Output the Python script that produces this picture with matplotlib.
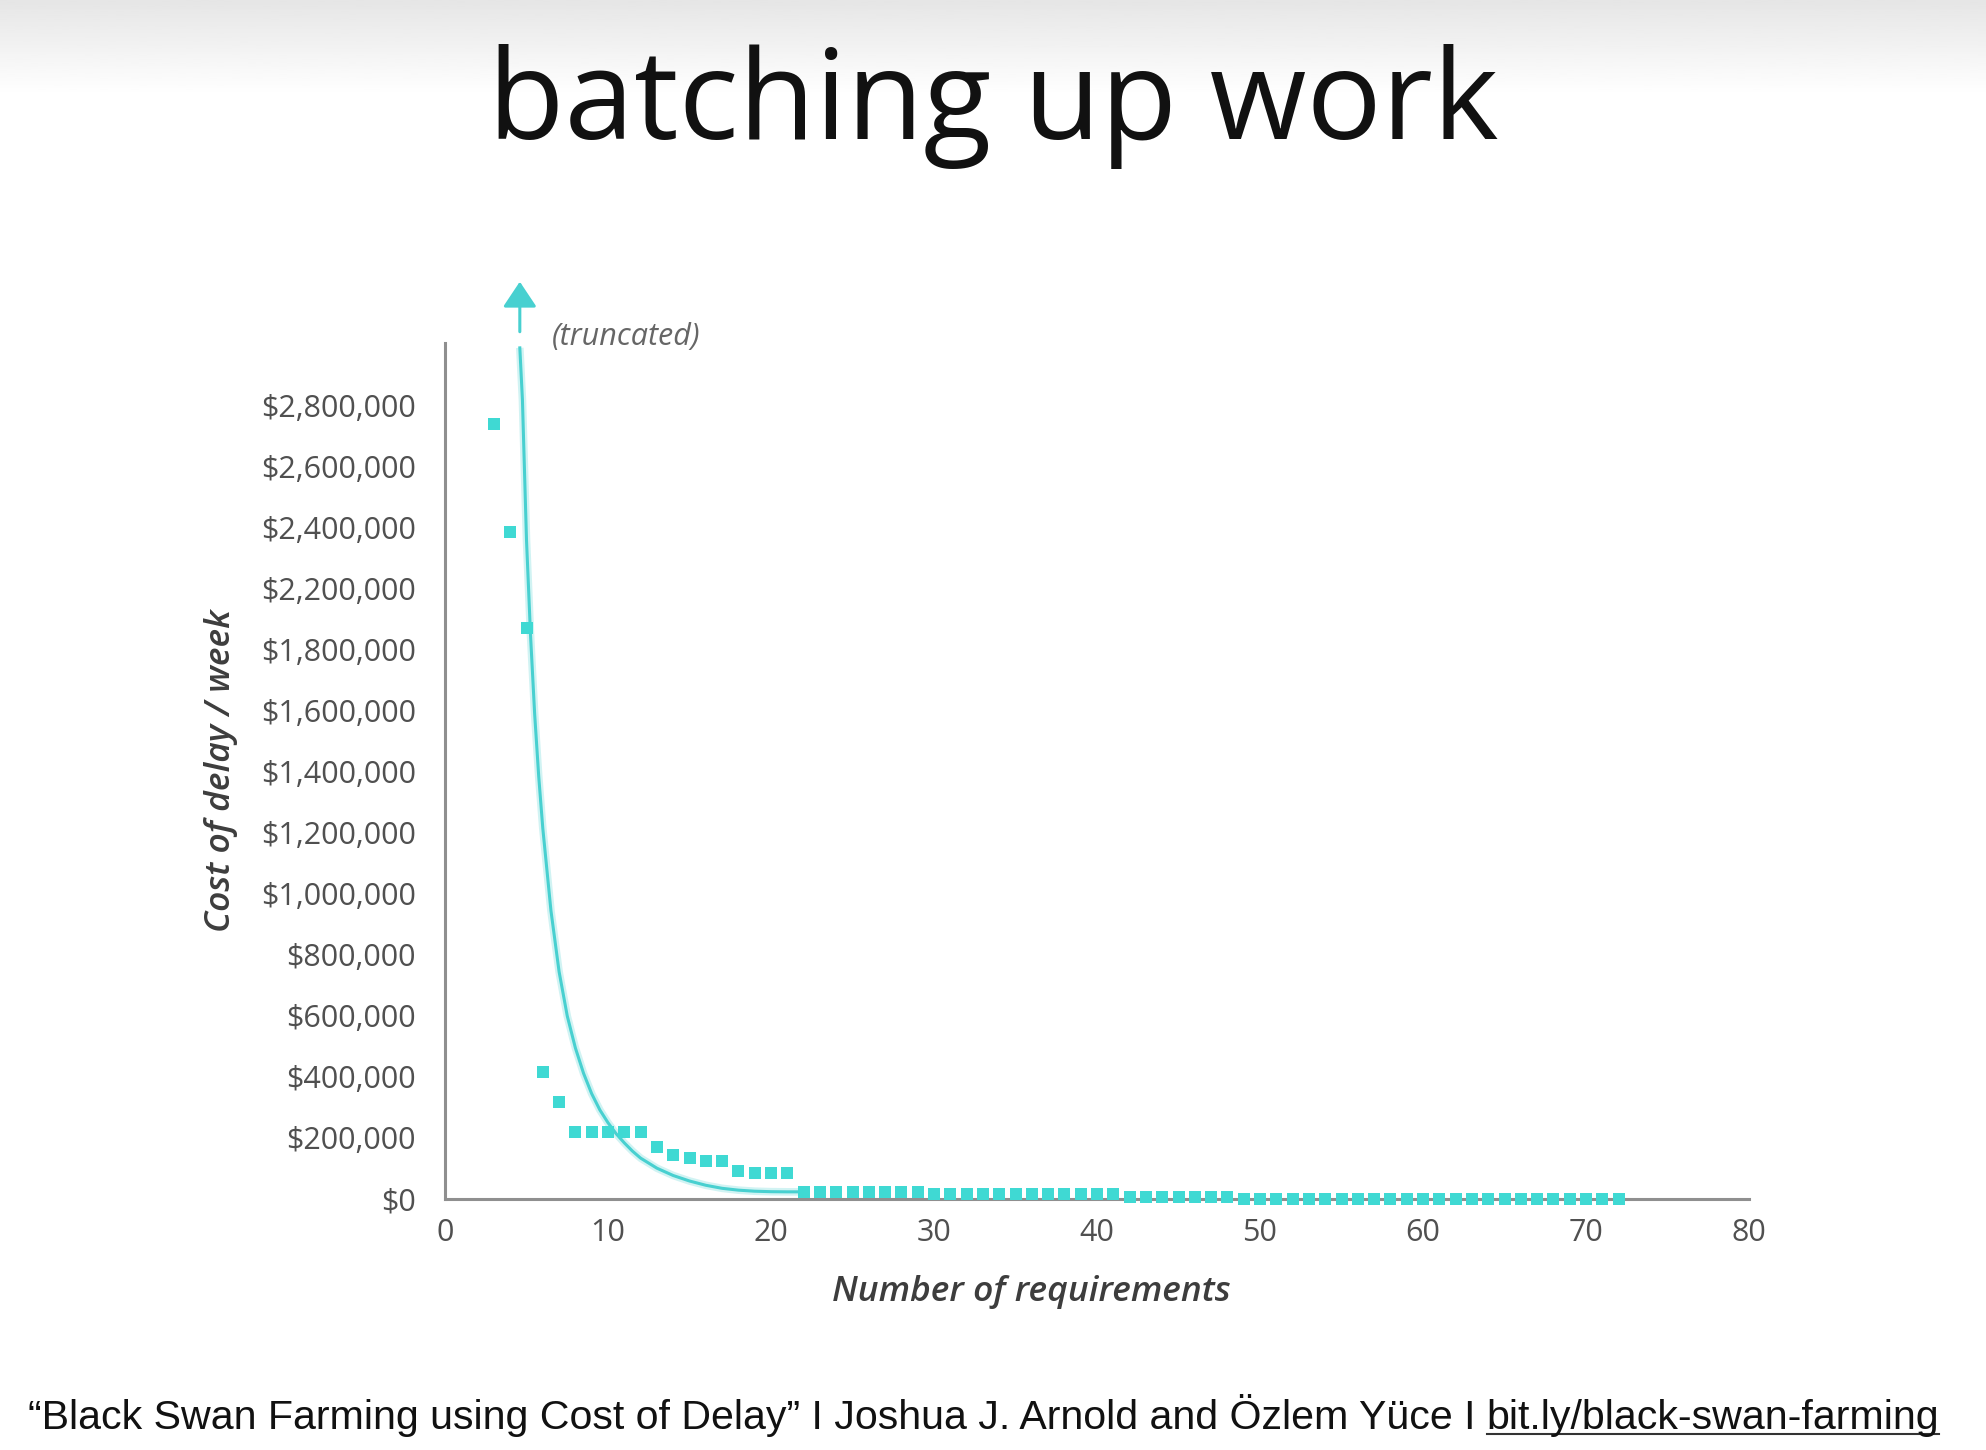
import numpy as np
import matplotlib
matplotlib.use("Agg")
import matplotlib.pyplot as plt
from matplotlib.lines import Line2D

# --- data (y in axis position units, $) ---
req_x = list(range(3, 73))
cost_y = (
    [2541000, 2187000, 1872000, 417000, 319000]          # 3..7
    + [221000] * 5                                       # 8..12
    + [169000, 144000, 135000, 126000, 126000]           # 13..17
    + [93000, 84000, 84000, 84000]                       # 18..21
    + [24000] * 8                                        # 22..29
    + [16000] * 12                                       # 30..41
    + [8000] * 7                                         # 42..48
    + [0] * 24                                           # 49..72
)

# fitted trend line
curve_x = [4.59, 4.75, 5.0, 5.25, 5.5, 5.75, 6.0, 6.5, 7.0, 7.5, 8.0, 8.5, 9.0,
           9.5, 10.0, 10.5, 11.0, 11.5, 12.0, 13.0, 14.0, 15.0, 16.0, 17.0,
           18.0, 19.0, 20.0, 21.0, 22.0]
curve_y = [2790000, 2620000, 2160000, 1845000, 1590000, 1385000, 1215000,
           945000, 745000, 600000, 495000, 412000, 345000, 292000, 250000,
           214000, 184000, 157000, 134000, 101000, 77000, 59000, 45000, 35000,
           29000, 25500, 24000, 23500, 23500]

# the original axis skips $2,000,000
y_tick_labels = ["$0", "$200,000", "$400,000", "$600,000", "$800,000",
                 "$1,000,000", "$1,200,000", "$1,400,000", "$1,600,000",
                 "$1,800,000", "$2,200,000", "$2,400,000", "$2,600,000",
                 "$2,800,000"]
x_ticks = [0, 10, 20, 30, 40, 50, 60, 70, 80]

title = "batching up work"
footer_main = "\u201cBlack Swan Farming using Cost of Delay\u201d I Joshua J. Arnold and \u00d6zlem Y\u00fcce I"
footer_link = "bit.ly/black-swan-farming"

CYAN = "#3fd9d3"
LINE = "#48d0d0"
GREY_AX = "#8f8f8f"
TICK_C = "#505050"
LABEL_C = "#3d3d3d"

W, H = 1986, 1450
fig = plt.figure(figsize=(W / 100, H / 100), dpi=100)
fig.patch.set_facecolor("white")

# light grey gradient at the top of the slide
bg = fig.add_axes([0, 1 - 95 / H, 1, 95 / H], zorder=-5)
grad = np.linspace(0.9, 1.0, 50).reshape(-1, 1)
bg.imshow(grad, aspect="auto", cmap="gray", vmin=0, vmax=1, extent=[0, 1, 0, 1], origin="upper")
bg.axis("off")

fig.text(0.5, 1 - 139 / H, title, ha="center", va="baseline",
         fontsize=90, family="Open Sans", color="#111111")

ax = fig.add_axes([445 / W, 1 - 1199 / H, (1749 - 445) / W, (1199 - 343) / H])
ax.set_xlim(0, 80)
ax.set_ylim(0, 2806000)

for s in ["top", "right"]:
    ax.spines[s].set_visible(False)
for s in ["left", "bottom"]:
    ax.spines[s].set_color(GREY_AX)
    ax.spines[s].set_linewidth(2.2)

ax.set_yticks(np.arange(len(y_tick_labels)) * 200000)
ax.set_yticklabels(y_tick_labels)
ax.set_xticks(x_ticks)
ax.tick_params(axis="both", length=0, labelsize=22, labelcolor=TICK_C)
ax.tick_params(axis="y", pad=21)
ax.tick_params(axis="x", pad=14)
for lab in ax.get_xticklabels() + ax.get_yticklabels():
    lab.set_family("Open Sans")

# trend curve with a soft halo
ax.plot(curve_x, curve_y, color=LINE, lw=5.5, alpha=0.25, solid_capstyle="butt", zorder=3)
ax.plot(curve_x, curve_y, color=LINE, lw=2.2, zorder=4)

ax.scatter(req_x, cost_y, marker="s", s=74, color=CYAN, linewidths=0, zorder=5, clip_on=False)

# truncated arrow above the curve
ax.annotate("", xy=(4.59, 3007000), xytext=(4.59, 2843000),
            arrowprops=dict(arrowstyle="-|>,head_length=0.3,head_width=0.2",
                            color=LINE, lw=2.2, mutation_scale=52,
                            shrinkA=0, shrinkB=0),
            annotation_clip=False)
ax.text(6.55, 2826000, "(truncated)", ha="left", va="center", fontsize=22,
        style="italic", family="Open Sans", color="#666666")

ax.set_xlabel("Number of requirements", fontsize=25.5, style="italic", weight="semibold",
              family="Open Sans", color=LABEL_C, va="center")
ax.xaxis.set_label_coords(0.45, -0.109)
ax.set_ylabel("Cost of delay / week", fontsize=25.5, style="italic", weight="semibold",
              family="Open Sans", color=LABEL_C, va="center")
ax.yaxis.set_label_coords(-0.172, 0.501)

# footer with underlined link
t1 = fig.text(28 / W, 1 - 1429 / H, footer_main, ha="left", va="baseline",
              fontsize=29.6, family="Liberation Sans", color="#111111")
fig.canvas.draw()
r = fig.canvas.get_renderer()
bb = t1.get_window_extent(r)
t2 = fig.text((bb.x1 + 11) / W, 1 - 1429 / H, footer_link, ha="left", va="baseline",
              fontsize=29.6, family="Liberation Sans", color="#111111")
bb2 = t2.get_window_extent(r)
uy = (H - 1429 - 5) / H
fig.add_artist(Line2D([bb2.x0 / W, bb2.x1 / W], [uy, uy], color="#333333", lw=1.5))

fig.savefig("out.png", dpi=100)
